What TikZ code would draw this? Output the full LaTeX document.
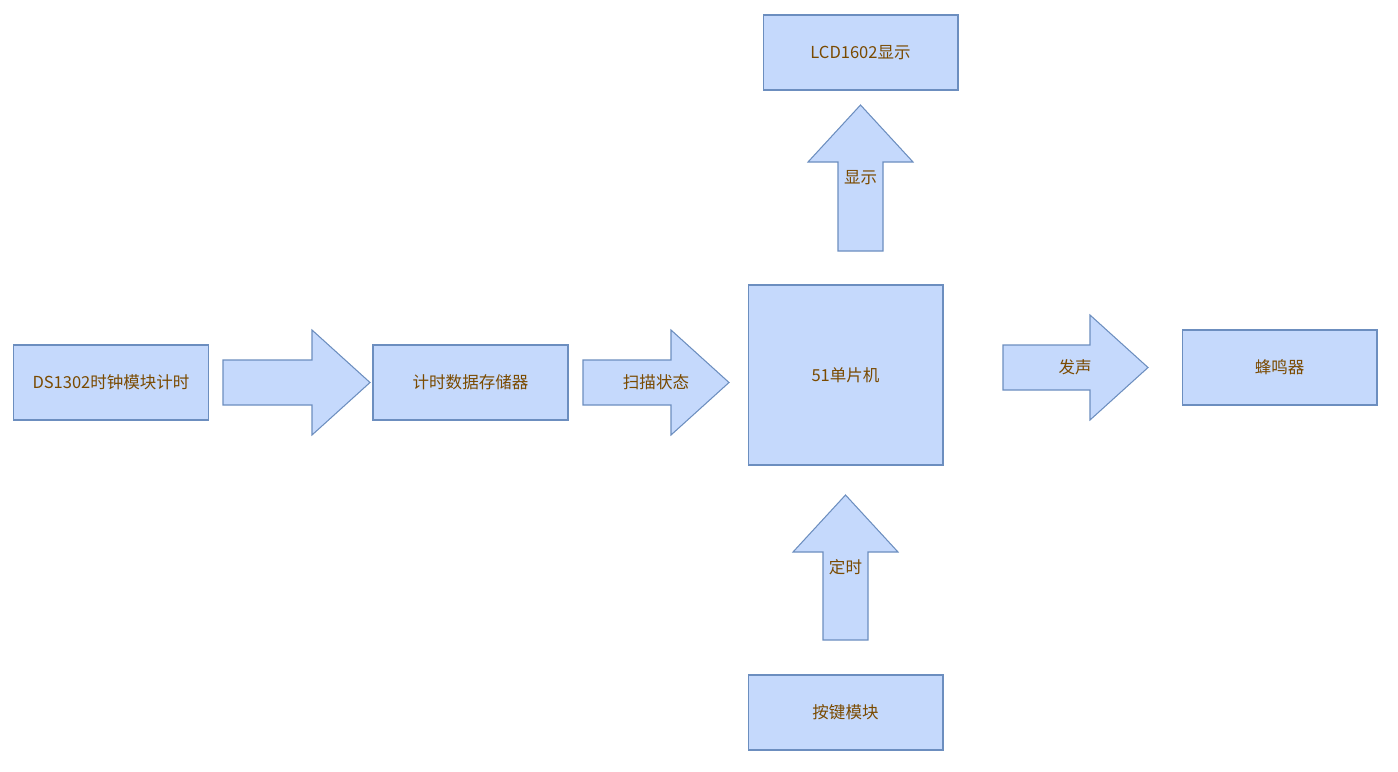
\documentclass[tikz,border=0pt]{standalone}
\usepackage{fontspec}
\setmainfont{Noto Sans CJK SC}
\usepackage{tikz}
\usetikzlibrary{positioning}
\usepackage{xcolor}

\definecolor{boxfill}{HTML}{C5D9FC}
\definecolor{boxline}{HTML}{6C8EBF}
\definecolor{boxtext}{HTML}{7A4A00}

\tikzset{
  block/.style={draw=boxline, fill=boxfill, line width=0.6pt, text=boxtext, font=\fontsize{9.4}{11}\selectfont, minimum width=3.9cm, minimum height=1.5cm, inner sep=0pt},
  bigarrow/.style={draw=boxline, fill=boxfill, line width=0.6pt, line join=miter},
  arrowlabel/.style={text=boxtext, font=\fontsize{9.4}{11}\selectfont, inner sep=0pt}
}

\begin{document}
\begin{tikzpicture}[x=0.02cm, y=-0.02cm]

\useasboundingbox (0,0) rectangle (1398,771);

% blocks
\node[block] (clock) at (111,382.5) {DS1302时钟模块计时};
\node[block] (store) at (470.5,382.5) {计时数据存储器};
\node[block, minimum height=3.6cm] (mcu) at (845.5,375) {51单片机};
\node[block] (lcd) at (860.5,52.5) {LCD1602显示};
\node[block] (buzzer) at (1279.5,367.5) {蜂鸣器};
\node[block] (keys) at (845.5,712.5) {按键模块};

% right arrows
\draw[bigarrow] (223,360)--(312,360)--(312,330)--(370,382.5)--(312,435)--(312,405)--(223,405)--cycle;

\draw[bigarrow] (583,360)--(671,360)--(671,330)--(729,382.5)--(671,435)--(671,405)--(583,405)--cycle;
\node[arrowlabel] (scan) at (656,382.5) {扫描状态};

\draw[bigarrow] (1003,345)--(1090,345)--(1090,315)--(1148,367.5)--(1090,420)--(1090,390)--(1003,390)--cycle;
\node[arrowlabel] (sound) at (1075,367.5) {发声};

% up arrows
\draw[bigarrow] (838,251)--(838,162)--(808,162)--(860.5,105)--(913,162)--(883,162)--(883,251)--cycle;
\node[arrowlabel] (show) at (860.5,178) {显示};

\draw[bigarrow] (823,640)--(823,552)--(793,552)--(845.5,495)--(898,552)--(868,552)--(868,640)--cycle;
\node[arrowlabel] (timer) at (845.5,567.5) {定时};

\end{tikzpicture}
\end{document}
